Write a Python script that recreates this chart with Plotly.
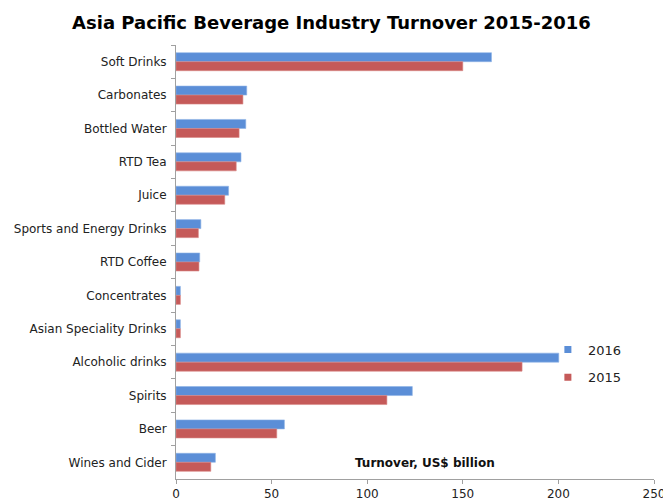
import plotly.graph_objects as go

categories = ["Soft Drinks", "Carbonates", "Bottled Water", "RTD Tea", "Juice",
              "Sports and Energy Drinks", "RTD Coffee", "Concentrates",
              "Asian Speciality Drinks", "Alcoholic drinks", "Spirits", "Beer",
              "Wines and Cider"]
values_2016 = [165, 37, 36.5, 34, 27.5, 13, 12.4, 2.3, 2.3, 200.2, 123.6, 56.7, 20.6]
values_2015 = [150, 35, 33, 31.5, 25.5, 11.7, 12, 2.3, 2.3, 181, 110.3, 52.7, 18.2]
x_ticks = [0, 50, 100, 150, 200, 250]
series_names = ["2016", "2015"]

blue = "#5B8ED7"
red = "#C55A59"

fig = go.Figure()
fig.add_trace(go.Bar(y=categories, x=values_2016, name=series_names[0], orientation="h",
                     marker=dict(color=blue, line=dict(color="#8FB3E6", width=0.6)),
                     showlegend=False))
fig.add_trace(go.Bar(y=categories, x=values_2015, name=series_names[1], orientation="h",
                     marker=dict(color=red, line=dict(color="#D98886", width=0.6)),
                     showlegend=False))
# legend entries with small square keys
for nm, col, grp in [(series_names[0], blue, "a"), (series_names[1], red, "b")]:
    fig.add_trace(go.Scatter(x=[None], y=[None], mode="markers", name=nm,
                             marker=dict(symbol="square", size=7, color=col),
                             legendgroup=grp, showlegend=True))

fig.update_layout(
    width=663, height=500,
    margin=dict(l=176, r=9, t=45, b=21, autoexpand=False),
    paper_bgcolor="white", plot_bgcolor="white",
    barmode="group", bargap=0.46, bargroupgap=0,
    font=dict(family="DejaVu Sans", size=12, color="#222222"),
    title=dict(text="<b>Asia Pacific Beverage Industry Turnover 2015-2016</b>",
               x=0.5, xanchor="center", y=0.955, yanchor="middle",
               font=dict(family="DejaVu Sans", size=18, color="#000000")),
    showlegend=True,
    legend=dict(x=0.778, y=0.333, xanchor="left", yanchor="top",
                bgcolor="rgba(0,0,0,0)", traceorder="grouped", tracegroupgap=8,
                font=dict(size=13, color="#222222"), itemwidth=30),
    xaxis=dict(range=[0, 250], tickvals=x_ticks, showgrid=False, zeroline=False,
               showline=True, linecolor="#A0A0A0", linewidth=1,
               ticks="outside", ticklen=4, tickcolor="#A0A0A0", automargin=False,
               ticklabeloverflow="allow", tickfont=dict(size=12)),
    yaxis=dict(autorange="reversed", showgrid=False, zeroline=False,
               showline=True, linecolor="#A0A0A0", linewidth=1,
               ticks="outside", ticklen=4, tickcolor="#A0A0A0", tickson="boundaries",
               automargin=False, ticklabelstandoff=6),
    annotations=[dict(text="<b>Turnover, US$ billion</b>", x=0.52, y=0.015,
                      xref="paper", yref="paper", showarrow=False,
                      font=dict(size=12, color="#111111"))],
)

fig.write_html("out.html")
